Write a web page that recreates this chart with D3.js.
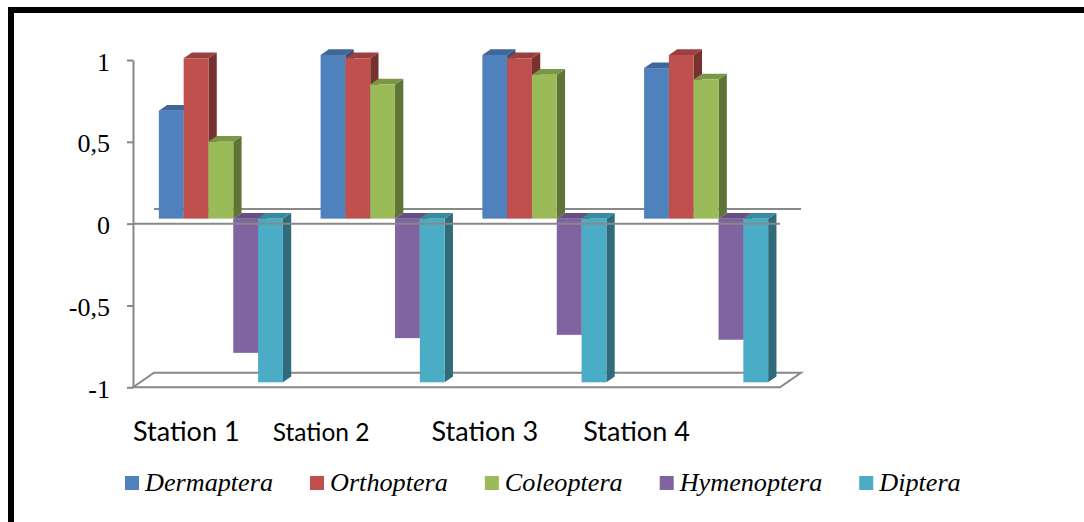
<!DOCTYPE html>
<html>
<head>
<meta charset="utf-8">
<script src="https://cdn.jsdelivr.net/npm/d3@7"></script>
<style>
  html, body { margin: 0; padding: 0; background: #fff; }
  svg { display: block; }
</style>
</head>
<body>
<svg id="chart" width="1084" height="522"></svg>
<script>
// ---- data ----
const stations = ["Station 1", "Station 2", "Station 3", "Station 4"];
const orders = ["Dermaptera", "Orthoptera", "Coleoptera", "Hymenoptera", "Diptera"];
const dermaptera  = [0.66, 1.00, 1.00, 0.92];
const orthoptera  = [0.98, 0.98, 0.98, 1.00];
const coleoptera  = [0.47, 0.82, 0.88, 0.85];
const hymenoptera = [-0.82, -0.73, -0.71, -0.74];
const diptera     = [-1.00, -1.00, -1.00, -1.00];
const yTickValues = [-1, -0.5, 0, 0.5, 1];
const yTickLabels = ["-1", "-0,5", "0", "0,5", "1"];

const seriesValues = [dermaptera, orthoptera, coleoptera, hymenoptera, diptera];
const colors = ["#4F81BD", "#C0504D", "#9BBB59", "#8064A2", "#4BACC6"];

// ---- layout ----
const svg = d3.select("#chart");
const plot = { left: 133, right: 780, top: 60, bottom: 387.3 };
const wall = { dx: 21, dy: -14.6 };       // depth of the floor / back wall
const barFront = { dx: 7, dy: -5 };        // where the column fronts sit in depth
const barDepth = { dx: 8.3, dy: -5.7 };    // thickness of each column
const axisColor = "#888888";

const y = d3.scaleLinear().domain([-1, 1]).range([plot.bottom, plot.top]);
const x0 = d3.scaleBand().domain(stations).range([plot.left, plot.right])
  .paddingInner(0.233).paddingOuter(0.1165);
const x1 = d3.scaleBand().domain(orders).range([0, x0.bandwidth()]);

function shade(c, k) {
  const r = d3.rgb(c);
  return d3.rgb(r.r * k, r.g * k, r.b * k).formatHex();
}

svg.append("rect").attr("width", 1084).attr("height", 522).attr("fill", "#fff");

// frame
svg.append("rect").attr("x", 8).attr("y", 7).attr("width", 1076).attr("height", 6).attr("fill", "#000");
svg.append("rect").attr("x", 8).attr("y", 7).attr("width", 6).attr("height", 515).attr("fill", "#000");

// floor at the bottom of the value range
const yf = y(-1);
const floor = d3.path();
floor.moveTo(plot.left, yf); floor.lineTo(plot.right, yf);
floor.lineTo(plot.right + wall.dx, yf + wall.dy);
floor.lineTo(plot.left + wall.dx, yf + wall.dy);
floor.closePath();
svg.append("path").attr("d", floor.toString())
  .attr("fill", "none").attr("stroke", axisColor).attr("stroke-width", 2);

// zero line on the back wall
svg.append("line")
  .attr("x1", plot.left + wall.dx).attr("x2", plot.right + wall.dx)
  .attr("y1", y(0) + wall.dy).attr("y2", y(0) + wall.dy)
  .attr("stroke", axisColor).attr("stroke-width", 2);

// columns
const bars = [];
stations.forEach((s, si) => {
  orders.forEach((o, oi) => {
    bars.push({ station: s, order: o, value: seriesValues[oi][si], color: colors[oi] });
  });
});

const gBars = svg.append("g");
bars.forEach(d => {
  const x = x0(d.station) + x1(d.order) + barFront.dx;
  const w = x1.bandwidth();
  const yv = y(d.value) + barFront.dy;
  const yz = y(0) + barFront.dy;
  const top = Math.min(yv, yz), bot = Math.max(yv, yz);
  const g = gBars.append("g");
  // right side
  g.append("polygon")
    .attr("points", [[x + w, top], [x + w + barDepth.dx, top + barDepth.dy],
      [x + w + barDepth.dx, bot + barDepth.dy], [x + w, bot]].map(p => p.join(",")).join(" "))
    .attr("fill", shade(d.color, 0.62));
  // top
  g.append("polygon")
    .attr("points", [[x, top], [x + barDepth.dx, top + barDepth.dy],
      [x + w + barDepth.dx, top + barDepth.dy], [x + w, top]].map(p => p.join(",")).join(" "))
    .attr("fill", shade(d.color, 0.8));
  // front
  g.append("rect")
    .attr("x", x).attr("y", top).attr("width", w).attr("height", bot - top)
    .attr("fill", d.color);
});

// zero line at the front
svg.append("line")
  .attr("x1", plot.left).attr("x2", plot.right)
  .attr("y1", y(0)).attr("y2", y(0))
  .attr("stroke", axisColor).attr("stroke-width", 2);

// value axis
const axis = d3.axisLeft(y)
  .tickValues(yTickValues)
  .tickFormat((d, i) => yTickLabels[i])
  .tickSize(6).tickSizeOuter(0).tickPadding(17);
const gAxis = svg.append("g").attr("transform", `translate(${plot.left},0)`).call(axis);
gAxis.select(".domain").attr("stroke", axisColor).attr("stroke-width", 2);
gAxis.selectAll(".tick line").attr("stroke", axisColor).attr("stroke-width", 2);
gAxis.selectAll(".tick text")
  .attr("fill", "#000").attr("dy", "0.39em")
  .style("font-family", "'Liberation Serif', 'Times New Roman', serif")
  .style("font-size", "26px");

// station labels
const labelShift = [0, -22, -25, -35];
const labelSize = [27, 24.5, 27, 27];
svg.append("g").selectAll("text").data(stations).join("text")
  .attr("x", (d, i) => x0(d) - x0.paddingOuter() * x0.step() + labelShift[i])
  .attr("y", 441)
  .attr("text-anchor", "start")
  .style("font-family", "Lato, 'Open Sans', sans-serif")
  .style("font-size", (d, i) => labelSize[i] + "px")
  .attr("fill", "#000")
  .text(d => d);

// legend
const legend = svg.append("g");
let lx = 125;
const ly = 476;
orders.forEach((o, i) => {
  legend.append("rect").attr("x", lx).attr("y", ly).attr("width", 14).attr("height", 14).attr("fill", colors[i]);
  const t = legend.append("text")
    .attr("x", lx + 20).attr("y", ly + 15)
    .style("font-family", "'Liberation Serif', 'Times New Roman', serif")
    .style("font-style", "italic")
    .style("font-size", "26.2px")
    .attr("fill", "#000")
    .text(o);
  lx += 20 + t.node().getComputedTextLength() + 37;
});
</script>
</body>
</html>
